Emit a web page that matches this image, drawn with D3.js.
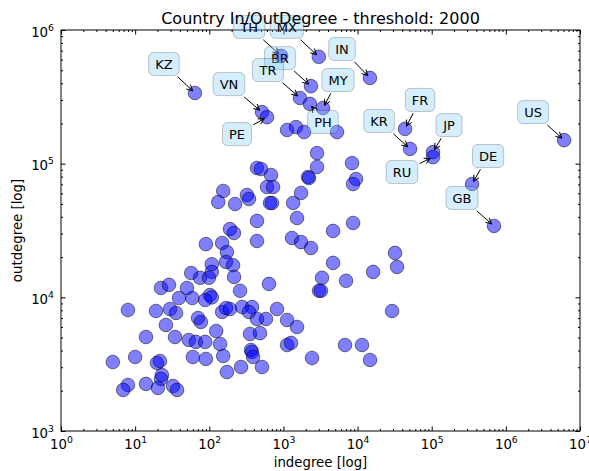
<!DOCTYPE html>
<html>
<head>
<meta charset="utf-8">
<script src="https://cdn.jsdelivr.net/npm/d3@7"></script>
<style>
  body { margin: 0; background: #fff; }
  svg { display: block; font-family: "DejaVu Sans", sans-serif; }
</style>
</head>
<body>
<svg class="chart" width="589" height="471"></svg>
<script>
// country codes ("" = not annotated), indegree, outdegree
const codes = [
    "KZ", "VN", "PE", "TH", "MX", "BR", "TR", "PH", "MY", "IN", "FR", "KR", "JP", "RU", "US", "DE", "GB"
]
const inDegree = [
    64, 514, 600, 930, 3000, 2350, 1670, 2280, 3420, 14700, 43700, 51000, 104000, 104000, 6100000, 350000, 692000,
    1120, 1480, 1900, 5280, 2840, 8420, 2840, 2150, 2210, 9540, 8690, 440, 498, 680, 600, 724, 154, 322, 343, 132,
    223, 659, 701, 1730, 1350, 1525, 440, 190, 215, 8690, 4670, 440, 1305, 1730, 2355, 90, 149, 173, 168, 209, 108,
    108, 57, 75, 99, 216, 32000, 34100, 4670, 16200, 3315, 6990, 638, 3020, 3210, 260, 102, 108, 88, 59, 22.3, 28.6,
    50, 39, 29200, 8.0, 19.1, 29.5, 35.6, 26, 70.5, 77, 14, 34.5, 53, 66, 88, 124, 140, 149, 168, 190, 277, 377, 343,
    440, 582, 819, 1120, 1525, 354, 483, 1120, 1266, 2430, 6770, 11480, 14720, 365, 377, 389, 514, 268, 173, 154, 90,
    60, 10, 5.0, 19.7, 21.6, 23, 22.3, 14, 8.0, 6.9, 20.3, 32.4, 36.7
]
const outDegree = [
    338000, 243000, 223000, 640000, 630000, 380000, 310000, 280000, 261000, 438000, 182000, 129000, 122000, 112000,
    150000, 70400, 34200,
    178600, 188000, 172500, 172500, 120000, 101000, 94500, 79500, 78100, 76800, 70400, 92800, 91200, 82300, 66900,
    66900, 62500, 58300, 54400, 51700, 49900, 50800, 50800, 60400, 50800, 39200, 37300, 32400, 30300, 36000, 31400,
    26400, 27800, 25900, 23400, 25000, 25500, 21800, 18400, 17400, 17700, 15500, 15200, 14000, 14000, 14200, 21500,
    16900, 18100, 15500, 14000, 13300, 12600, 11200, 11200, 11200, 10400, 10000, 9550, 9880, 11750, 12400, 11750,
    9880, 7900, 8040, 7900, 8180, 7640, 6210, 7010, 6540, 5050, 5050, 4800, 4640, 4640, 5600, 4480, 7770, 8320, 8180,
    8470, 8470, 7770, 6890, 6890, 8180, 6770, 6000, 5320, 5400, 4400, 4560, 3520, 4400, 4400, 3400, 4040, 3900, 3580,
    3010, 3010, 2760, 3640, 3460, 3580, 3580, 3280, 3230, 3340, 2620, 2450, 2250, 2210, 2030, 2100, 2170, 2030
]
const xTicks = [1, 1e1, 1e2, 1e3, 1e4, 1e5, 1e6, 1e7]
const yTicks = [1e3, 1e4, 1e5, 1e6]

// where each annotation box sits, relative to its point (px)
const labelOffsets = {
    KZ: [-31, -29], VN: [-33, -28], PE: [-30, 17], TH: [-32, -29], MX: [-32, -30],
    BR: [-31, -28], TR: [-32, -28], PH: [13, 18], MY: [15, -28], IN: [-28, -29],
    FR: [15, -29], KR: [-31, -28], JP: [16, -27], RU: [-31, 15], US: [-31, -28],
    DE: [16, -28], GB: [-32, -28]
}

const points = inDegree.map((d, i) => ({x: d, y: outDegree[i], code: codes[i] || ""}))

const plotLeft = 61, plotRight = 580, plotTop = 30, plotBottom = 431

const svg = d3.select("svg.chart")
svg.append("rect").attr("width", 589).attr("height", 471).attr("fill", "#fff")

const scaleX = d3.scaleLog().domain([1, 1e7]).range([plotLeft, plotRight])
const scaleY = d3.scaleLog().domain([1e3, 1e6]).range([plotBottom, plotTop])

// minor ticks 2..9 per decade
const minorX = []
xTicks.slice(0, -1).forEach(t => { for (let k = 2; k < 10; k++) minorX.push(t * k) })
const minorY = []
yTicks.slice(0, -1).forEach(t => { for (let k = 2; k < 10; k++) minorY.push(t * k) })

function addAxis(axisFn, scale, majors, minors, transform, withLabels) {
    const gMinor = svg.append("g").attr("transform", transform)
    gMinor.call(axisFn(scale).tickValues(minors).tickSizeInner(-2).tickSizeOuter(0).tickFormat(""))
    gMinor.select(".domain").remove()
    gMinor.selectAll(".tick text").remove()
    const g = svg.append("g").attr("transform", transform)
    g.call(axisFn(scale).tickValues(majors).tickSizeInner(-4.5).tickSizeOuter(0).tickFormat(""))
    g.select(".domain").remove()
    g.selectAll("line").attr("stroke", "#000")
    gMinor.selectAll("line").attr("stroke", "#000")
    if (!withLabels) { g.selectAll(".tick text").remove(); return g }
    g.attr("font-family", "DejaVu Sans").attr("font-size", 13.3)
    g.selectAll(".tick text").each(function(d) {
        const t = d3.select(this)
        t.text(null).attr("fill", "#000")
        t.append("tspan").text("10")
        t.append("tspan").attr("dy", -6).attr("font-size", 9.3).text(Math.round(Math.log10(d)))
    })
    return g
}

const axisXGroup = addAxis(d3.axisBottom, scaleX, xTicks, minorX, `translate(0, ${plotBottom})`, true)
axisXGroup.selectAll(".tick text").attr("y", 18).attr("dy", 0)
addAxis(d3.axisTop, scaleX, xTicks, minorX, `translate(0, ${plotTop})`, false)
const axisYGroup = addAxis(d3.axisLeft, scaleY, yTicks, minorY, `translate(${plotLeft}, 0)`, true)
axisYGroup.selectAll(".tick text").attr("x", -7).attr("dy", 0).attr("y", 6)
addAxis(d3.axisRight, scaleY, yTicks, minorY, `translate(${plotRight}, 0)`, false)

// frame
svg.append("rect")
    .attr("x", plotLeft).attr("y", plotTop)
    .attr("width", plotRight - plotLeft).attr("height", plotBottom - plotTop)
    .attr("fill", "none").attr("stroke", "#000").attr("stroke-width", 1)

// scatter
svg.append("g")
    .selectAll("circle")
    .data(points)
    .enter().append("circle")
    .attr("cx", d => scaleX(d.x))
    .attr("cy", d => scaleY(d.y))
    .attr("r", 6.8)
    .attr("fill", "blue")
    .attr("fill-opacity", 0.5)
    .attr("stroke", "#000")
    .attr("stroke-opacity", 0.5)
    .attr("stroke-width", 1)

// annotations
const notes = svg.append("g")
points.filter(d => d.code).forEach(d => {
    const px = scaleX(d.x), py = scaleY(d.y)
    const off = labelOffsets[d.code]
    const tx = px + off[0], ty = py + off[1]

    const g = notes.append("g")
    const box = g.append("rect")
    const label = g.append("text")
        .attr("x", tx).attr("y", ty)
        .attr("dy", "0.36em")
        .attr("text-anchor", "middle")
        .attr("font-size", 13)
        .attr("fill", "#000")
        .text(d.code)
    const bb = label.node().getBBox()
    const hw = bb.width / 2 + 6.5, hh = 11.5
    box.attr("x", tx - hw).attr("y", ty - hh)
        .attr("width", hw * 2).attr("height", hh * 2)
        .attr("rx", 5).attr("ry", 5)
        .attr("fill", "rgb(135,206,250)").attr("fill-opacity", 0.35)
        .attr("stroke", "#000").attr("stroke-opacity", 0.22).attr("stroke-width", 1)

    // arrow from box edge to point
    const dx = px - tx, dy = py - ty
    const len = Math.hypot(dx, dy)
    const ux = dx / len, uy = dy / len
    const tEdge = Math.min(hw / Math.abs(dx || 1e-9), hh / Math.abs(dy || 1e-9)) * len
    const sx = tx + ux * (tEdge + 2), sy = ty + uy * (tEdge + 2)
    const ex = px - ux * 3, ey = py - uy * 3
    const hl = 6, hwid = 3
    const bx = ex - ux * hl, by = ey - uy * hl
    g.insert("path", "rect")
        .attr("d", `M${sx},${sy}L${ex},${ey}M${bx - uy * hwid},${by + ux * hwid}L${ex},${ey}L${bx + uy * hwid},${by - ux * hwid}`)
        .attr("fill", "none").attr("stroke", "#000").attr("stroke-width", 1)
})

// titles
svg.append("text")
    .attr("x", (plotLeft + plotRight) / 2).attr("y", 24)
    .attr("text-anchor", "middle")
    .attr("font-size", 16)
    .text("Country In/OutDegree - threshold: 2000")
svg.append("text")
    .attr("x", (plotLeft + plotRight) / 2).attr("y", 467)
    .attr("text-anchor", "middle")
    .attr("font-size", 13.3)
    .text("indegree [log]")
svg.append("text")
    .attr("transform", `translate(22, ${(plotTop + plotBottom) / 2}) rotate(-90)`)
    .attr("text-anchor", "middle")
    .attr("font-size", 13.3)
    .text("outdegree [log]")
</script>
</body>
</html>
